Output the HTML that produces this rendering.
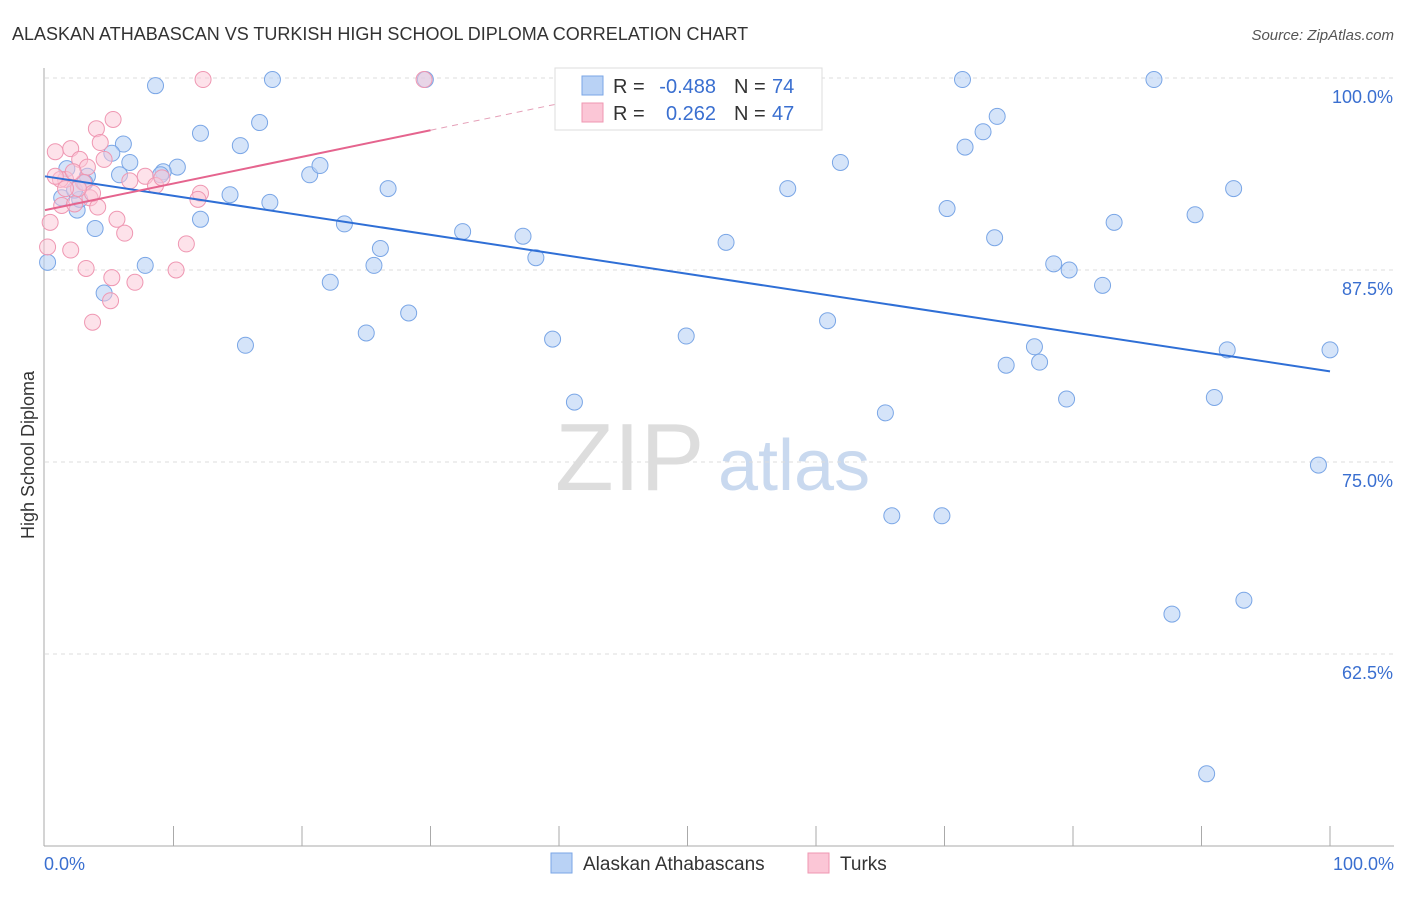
<!DOCTYPE html>
<html><head><meta charset="utf-8"><style>
body{margin:0;background:#fff;font-family:"Liberation Sans",sans-serif;}
svg text{font-family:"Liberation Sans",sans-serif;}
</style></head><body>
<svg id="c" width="1406" height="892" xmlns="http://www.w3.org/2000/svg">
<text x="12" y="40" font-size="18" fill="#333">ALASKAN ATHABASCAN VS TURKISH HIGH SCHOOL DIPLOMA CORRELATION CHART</text>
<text x="1394" y="40" font-size="15" fill="#555" font-style="italic" text-anchor="end">Source: ZipAtlas.com</text>
<text x="555" y="490" font-size="96" fill="#ddd" font-family="Liberation Serif">ZIP</text>
<text x="718" y="490" font-size="72" fill="#c9d9ef">atlas</text>
<text x="34" y="455" font-size="18" fill="#333" transform="rotate(-90 34 455)" text-anchor="middle">High School Diploma</text>
<g id="grid"></g><g id="pts"></g><g id="lines"></g>
<rect x="555" y="68" width="267" height="62" fill="#fff" stroke="#ddd"/>
<rect x="582" y="76" width="21" height="19" fill="#b9d2f5" stroke="#7aa6e6"/>
<rect x="582" y="103" width="21" height="19" fill="#fbc6d6" stroke="#ef97b2"/>
<g font-size="20">
<text x="613" y="93" fill="#333">R =</text><text x="716" y="93" fill="#3a6fd0" text-anchor="end">-0.488</text>
<text x="734" y="93" fill="#333">N =</text><text x="772" y="93" fill="#3a6fd0">74</text></g>
<g font-size="20">
<text x="613" y="120" fill="#333">R =</text><text x="716" y="120" fill="#3a6fd0" text-anchor="end">0.262</text>
<text x="734" y="120" fill="#333">N =</text><text x="772" y="120" fill="#3a6fd0">47</text></g>
<text x="44" y="870" font-size="18" fill="#3a6fd0">0.0%</text>
<text x="1394" y="870" font-size="18" fill="#3a6fd0" text-anchor="end">100.0%</text>
<rect x="551" y="853" width="21" height="20" fill="#b9d2f5" stroke="#7aa6e6"/>
<text x="583" y="870" font-size="19" fill="#333">Alaskan Athabascans</text>
<rect x="808" y="853" width="21" height="20" fill="#fbc6d6" stroke="#ef97b2"/>
<text x="840" y="870" font-size="19" fill="#333">Turks</text>
</svg>
<script>
const yTicks=[100,87.5,75,62.5];
const blueX=[8.6,17.7,29.6,71.4,86.3,74.1,73,71.6,12.1,16.7,15.2,6.1,5.2,6.6,10.3,9.2,9,5.8,1.7,3.3,20.6,21.4,26.7,14.4,17.5,12.1,3.9,2.5,1.3,2.7,2.3,23.3,26.1,25.6,32.5,37.2,38.2,7.8,4.6,22.2,15.6,25,28.3,39.5,41.2,49.9,53,57.8,61.9,60.9,70.2,73.9,78.5,79.7,82.3,83.2,89.5,92.5,77,74.8,77.4,79.5,92,100,91,65.4,99.1,65.9,69.8,87.7,93.3,90.4,0.2,3.1];
const blueY=[99.5,99.9,99.9,99.9,99.9,97.5,96.5,95.5,96.4,97.1,95.6,95.7,95.1,94.5,94.2,93.9,93.7,93.7,94.1,93.6,93.7,94.3,92.8,92.4,91.9,90.8,90.2,91.4,92.2,92.1,92.7,90.5,88.9,87.8,90.0,89.7,88.3,87.8,86,86.7,82.6,83.4,84.7,83.0,78.9,83.2,89.3,92.8,94.5,84.2,91.5,89.6,87.9,87.5,86.5,90.6,91.1,92.8,82.5,81.3,81.5,79.1,82.3,82.3,79.2,78.2,74.8,71.5,71.5,65.1,66,54.7,88,93.2];
const pinkX=[0.2,0.4,0.8,1.6,2,2.7,3.3,4,5.3,4.3,3.0,1.3,2.3,3.5,4.1,5.6,6.2,2,3.2,5.2,5.1,3.7,7,10.2,11,7.8,8.6,9.1,12.1,11.9,12.3,29.5,1.2,2.2,3.7,4.6,6.6,2.6,0.8,1.6];
const pinkY=[89,90.6,95.2,93.4,95.4,94.7,94.2,96.7,97.3,95.8,93.2,91.7,91.8,92.2,91.6,90.8,89.9,88.8,87.6,87,85.5,84.1,86.7,87.5,89.2,93.6,93,93.5,92.5,92.1,99.9,99.9,93.4,93.9,92.5,94.7,93.3,92.8,93.6,92.8];
const blueFit=[93.6,80.9];const pinkFit=[91.4,96.6];
const X=v=>45+v*12.85, Y=v=>78+(100-v)*15.36;
const NS="http://www.w3.org/2000/svg";
function mk(tag,at,parent){const e=document.createElementNS(NS,tag);for(const k in at)e.setAttribute(k,at[k]);document.getElementById(parent).appendChild(e);return e;}
yTicks.forEach(t=>{
 const l=mk('line',{x1:45,x2:1394,y1:Y(t),y2:Y(t),stroke:'#ddd','stroke-dasharray':'4,4'},'grid');
 
 
 const tx=mk('text',{x:1393,y:Y(t)+25,'font-size':18,fill:'#3a6fd0','text-anchor':'end'},'grid');
 tx.textContent=t.toFixed(1)+'%';
 
 
});
const ax=mk('line',{x1:44,x2:44,y1:68,y2:846,stroke:'#aaa'},'grid');


const bx=mk('line',{x1:44,x2:1394,y1:846,y2:846,stroke:'#aaa'},'grid');


for(let i=1;i<=10;i++){const t=mk('line',{x1:X(i*10),x2:X(i*10),y1:826,y2:846,stroke:'#aaa'},'grid');
 
 }
blueX.forEach((v,i)=>{const c=mk('circle',{cx:X(v),cy:Y(blueY[i]),r:8,fill:'rgba(185,210,245,0.6)',stroke:'#7aa6e6','stroke-width':1},'pts');
 
 });
pinkX.forEach((v,i)=>{const c=mk('circle',{cx:X(v),cy:Y(pinkY[i]),r:8,fill:'rgba(251,198,214,0.5)',stroke:'#ef97b2','stroke-width':1},'pts');
 
 });
const bl=mk('line',{x1:X(0),y1:Y(blueFit[0]),x2:X(100),y2:Y(blueFit[1]),stroke:'#2f6fd6','stroke-width':2},'lines');


const ps=(pinkFit[1]-pinkFit[0])/30;
const pl=mk('line',{x1:X(0),y1:Y(pinkFit[0]),x2:X(30),y2:Y(pinkFit[1]),stroke:'#e5648e','stroke-width':2},'lines');


const pd=mk('line',{x1:X(30),y1:Y(pinkFit[1]),x2:X(42),y2:Y(pinkFit[1]+ps*12),stroke:'#e5a0b8','stroke-width':1,'stroke-dasharray':'6,5'},'lines');


</script>
</body></html>
